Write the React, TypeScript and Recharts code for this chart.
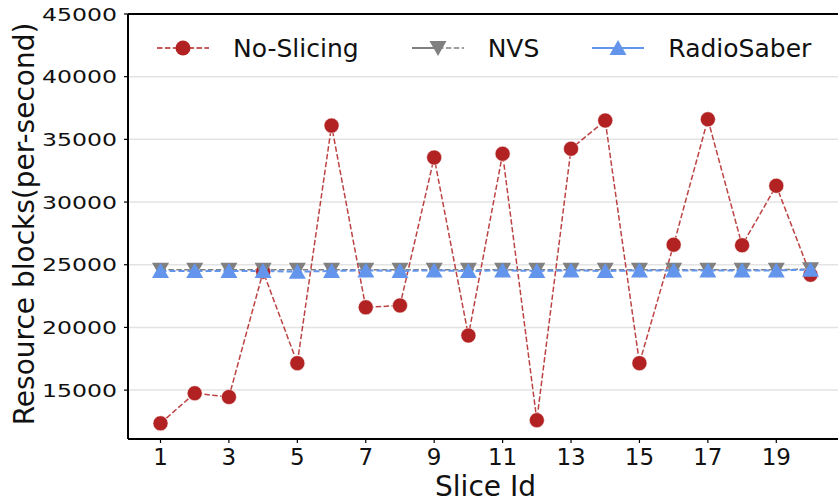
import React from 'react';
import {
  CartesianGrid,
  Line,
  LineChart,
  ReferenceLine,
  XAxis,
  YAxis,
} from 'recharts';

const sliceIds = [1, 2, 3, 4, 5, 6, 7, 8, 9, 10, 11, 12, 13, 14, 15, 16, 17, 18, 19, 20];
const noSlicing = [
  12350, 14750, 14450, 24450, 17150, 36100, 21600, 21750, 33550, 19350,
  33850, 12600, 34250, 36500, 17150, 26600, 36600, 26550, 31300, 24200,
];
const nvs = [
  24600, 24600, 24600, 24600, 24600, 24600, 24600, 24600, 24600, 24600,
  24600, 24600, 24600, 24600, 24600, 24600, 24600, 24600, 24600, 24650,
];
const radioSaber = [
  24500, 24500, 24500, 24500, 24450, 24500, 24550, 24500, 24550, 24500,
  24550, 24500, 24550, 24500, 24550, 24550, 24550, 24550, 24550, 24600,
];
const xTicks = [1, 3, 5, 7, 9, 11, 13, 15, 17, 19];
const yTicks = [15000, 20000, 25000, 30000, 35000, 40000, 45000];
const yMax = 45000;

const data = sliceIds.map((id, i) => ({
  id,
  noSlicing: noSlicing[i],
  nvs: nvs[i],
  radioSaber: radioSaber[i],
}));

const FONT = '"DejaVu Sans", sans-serif';
const RED = '#b22222';
const GRAY = '#808080';
const BLUE = '#6495ed';

const YTick = ({ x, y, payload }: any) => (
  <text
    x={x}
    y={y}
    dy={6.7}
    textAnchor="end"
    fontFamily={FONT}
    fontSize={18.5}
    fill="#111"
    textLength={75}
    lengthAdjust="spacingAndGlyphs"
  >
    {payload.value}
  </text>
);

const XTick = ({ x, y, payload }: any) => (
  <text x={x} y={y} dy={18} textAnchor="middle" fontFamily={FONT} fontSize={23} fill="#111">
    {payload.value}
  </text>
);

const triUp = (fill: string) => (props: any) => {
  const { cx, cy, key } = props;
  if (cx == null || cy == null) return <g key={key} />;
  return (
    <polygon
      key={key}
      points={`${cx - 8.5},${cy + 7} ${cx + 8.5},${cy + 7} ${cx},${cy - 8}`}
      fill={fill}
    />
  );
};

const triDown = (fill: string) => (props: any) => {
  const { cx, cy, key } = props;
  if (cx == null || cy == null) return <g key={key} />;
  return (
    <polygon
      key={key}
      points={`${cx - 8.5},${cy - 7} ${cx + 8.5},${cy - 7} ${cx},${cy + 8}`}
      fill={fill}
    />
  );
};

const legendItems = [
  { name: 'No-Slicing', key: 'noSlicing' },
  { name: 'NVS', key: 'nvs' },
  { name: 'RadioSaber', key: 'radioSaber' },
];

const LegendIcon = ({ kind }: { kind: string }) => (
  <svg width={52} height={20} style={{ display: 'block' }}>
    {kind === 'noSlicing' && (
      <>
        <line x1={0} y1={10} x2={52} y2={10} stroke={RED} strokeWidth={1.5} strokeDasharray="5.5 2.4" />
        <circle cx={26} cy={10} r={7.5} fill={RED} />
      </>
    )}
    {kind === 'nvs' && (
      <>
        <line x1={0} y1={10} x2={26} y2={10} stroke={GRAY} strokeWidth={2} />
        <line x1={26} y1={10} x2={52} y2={10} stroke={GRAY} strokeWidth={1.5} strokeDasharray="5.5 2.4" />
        <polygon points="17.5,3 34.5,3 26,18" fill={GRAY} />
      </>
    )}
    {kind === 'radioSaber' && (
      <>
        <line x1={0} y1={10} x2={52} y2={10} stroke={BLUE} strokeWidth={2} />
        <polygon points="17.5,17 34.5,17 26,2" fill={BLUE} />
      </>
    )}
  </svg>
);

const ChartLegend = () => (
  <div
    style={{
      position: 'absolute',
      top: 30,
      left: 157,
      display: 'flex',
      alignItems: 'center',
      height: 36,
      fontFamily: FONT,
    }}
  >
    {legendItems.map((it, i) => (
      <div
        key={it.key}
        style={{ display: 'flex', alignItems: 'center', marginRight: i < 2 ? 53 : 0 }}
      >
        <LegendIcon kind={it.key} />
        <span style={{ marginLeft: 24, fontSize: 25, color: '#111', whiteSpace: 'nowrap' }}>
          {it.name}
        </span>
      </div>
    ))}
  </div>
);

const YLabel = () => (
  <text
    transform="translate(34,224) rotate(-90)"
    textAnchor="middle"
    fontFamily={FONT}
    fontSize={28}
    fill="#111"
  >
    Resource blocks(per-second)
  </text>
);

export default function App() {
  return (
    <div
      style={{
        position: 'fixed',
        left: 0,
        top: 0,
        width: 838,
        height: 502,
        overflow: 'hidden',
        background: '#fff',
      }}
    >
      <LineChart
        width={850}
        height={502}
        data={data}
        margin={{ top: 14, right: 7, left: 20, bottom: 0 }}
      >
        <CartesianGrid horizontal vertical={false} stroke="#e3e3e3" strokeWidth={1.5} />
        <XAxis
          dataKey="id"
          type="number"
          domain={[0.05, 20.95]}
          ticks={xTicks}
          interval={0}
          height={63}
          tick={<XTick />}
          tickSize={4}
          tickMargin={4}
          tickLine={{ stroke: '#000', strokeWidth: 1.2 }}
          axisLine={{ stroke: '#000', strokeWidth: 2 }}
          label={{
            value: 'Slice Id',
            position: 'insideBottom',
            offset: 6,
            fontFamily: FONT,
            fontSize: 28,
            fill: '#111',
          }}
        />
        <YAxis
          type="number"
          domain={[11100, yMax]}
          ticks={yTicks}
          allowDataOverflow
          width={108}
          tick={<YTick />}
          tickSize={4}
          tickMargin={7}
          tickLine={{ stroke: '#000', strokeWidth: 1.2 }}
          axisLine={{ stroke: '#000', strokeWidth: 2 }}
          label={<YLabel />}
        />
        <ReferenceLine y={yMax} stroke="#000" strokeWidth={2} ifOverflow="visible" />
        <Line
          dataKey="noSlicing"
          name="No-Slicing"
          stroke={RED}
          strokeOpacity={0.85}
          strokeWidth={1.5}
          strokeDasharray="5.5 2.4"
          dot={{ r: 7.5, fill: RED, stroke: '#fff', strokeWidth: 0.6, strokeDasharray: '' }}
          activeDot={false}
          isAnimationActive={false}
        />
        <Line
          dataKey="nvs"
          name="NVS"
          stroke={GRAY}
          strokeWidth={1.5}
          strokeDasharray="5.5 2.4"
          dot={triDown(GRAY)}
          activeDot={false}
          isAnimationActive={false}
        />
        <Line
          dataKey="radioSaber"
          name="RadioSaber"
          stroke={BLUE}
          strokeWidth={2}
          strokeDasharray="6 3"
          dot={triUp(BLUE)}
          activeDot={false}
          isAnimationActive={false}
        />
      </LineChart>
      <ChartLegend />
    </div>
  );
}
